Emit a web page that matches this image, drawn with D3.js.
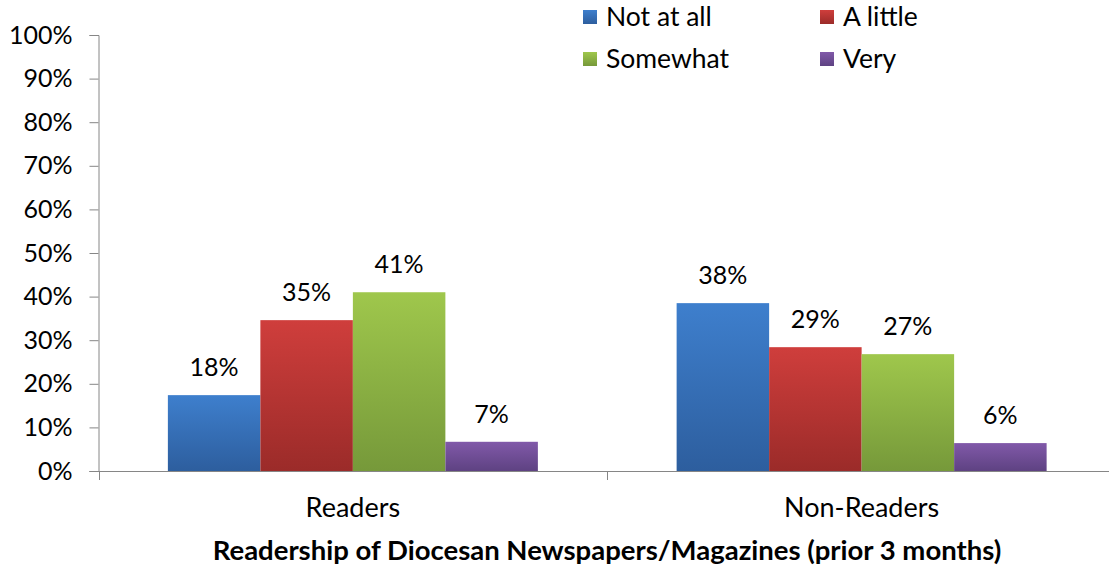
<!DOCTYPE html>
<html>
<head>
<meta charset="utf-8">
<script src="https://cdn.jsdelivr.net/npm/d3@7"></script>
<style>
  body { margin: 0; background: #fff; }
  svg text { font-family: Lato, "Open Sans", sans-serif; fill: #000; }
</style>
</head>
<body>
<div id="canvas"></div>
<script>
"use strict";

let svgWidth = 1109;
let svgHeight = 571;

/* Data */
let groups = ["Readers", "Non-Readers"];
let seriesNames = ["Not at all", "A little", "Somewhat", "Very"];
let readersValues = [17.4, 34.6, 41.0, 6.7];
let nonReadersValues = [38.5, 28.4, 26.8, 6.4];
let labelValues = [["18%", "35%", "41%", "7%"], ["38%", "29%", "27%", "6%"]];
let yTicks = [0, 10, 20, 30, 40, 50, 60, 70, 80, 90, 100];
let axisTitle = "Readership of Diocesan Newspapers/Magazines (prior 3 months)";

let colorsTop = ["#3e7fcd", "#cf3e3c", "#9fc74c", "#8159a9"];
let colorsBottom = ["#2d5e9e", "#9b2b29", "#76993a", "#5e4282"];

let allValues = [readersValues, nonReadersValues];

let plotLeft = 98.5;
let plotRight = 1116;
let plotTop = 35;
let plotBottom = 471;

let svg = d3.select("#canvas")
  .append("svg")
  .attr("width", svgWidth)
  .attr("height", svgHeight);

/* Gradients */
let defs = svg.append("defs");
seriesNames.forEach((s, i) => {
  let g = defs.append("linearGradient")
    .attr("id", "grad" + i)
    .attr("x1", 0).attr("y1", 0)
    .attr("x2", 0).attr("y2", 1);
  g.append("stop").attr("offset", "0%").attr("stop-color", colorsTop[i]);
  g.append("stop").attr("offset", "100%").attr("stop-color", colorsBottom[i]);
});

/* Scales */
let xScale = d3.scaleBand()
  .domain(groups)
  .range([plotLeft, plotRight])
  .paddingInner(0)
  .paddingOuter(0);

let innerScale = d3.scaleBand()
  .domain(seriesNames)
  .range([0, xScale.bandwidth()])
  .paddingOuter(0.75)
  .paddingInner(0);

let yScale = d3.scaleLinear()
  .domain([0, 100])
  .range([plotBottom, plotTop]);

/* Y axis */
let yAxis = svg.append("g")
  .attr("transform", `translate(${plotLeft},0)`)
  .call(d3.axisLeft(yScale).tickValues(yTicks).tickSize(9).tickPadding(17).tickFormat(d => d + "%"));

yAxis.select(".domain").attr("stroke", "#868686");
yAxis.selectAll(".tick line").attr("stroke", "#868686");
yAxis.selectAll(".tick text")
  .attr("font-size", "25px")
  .attr("font-family", "Lato, sans-serif")
  .attr("fill", "#000");

/* Bars */
groups.forEach((grp, gi) => {
  let gg = svg.append("g").attr("transform", `translate(${xScale(grp)},0)`);
  gg.selectAll("rect")
    .data(allValues[gi])
    .enter()
    .append("rect")
    .attr("x", (d, i) => innerScale(seriesNames[i]))
    .attr("y", d => yScale(d))
    .attr("width", innerScale.bandwidth())
    .attr("height", d => plotBottom - yScale(d))
    .attr("fill", (d, i) => `url(#grad${i})`);

  gg.selectAll("text.value")
    .data(allValues[gi])
    .enter()
    .append("text")
    .attr("class", "value")
    .attr("x", (d, i) => innerScale(seriesNames[i]) + innerScale.bandwidth() / 2)
    .attr("y", d => yScale(d) - 19)
    .attr("text-anchor", "middle")
    .attr("font-size", "25px")
    .text((d, i) => labelValues[gi][i]);
});

/* X axis */
let xAxisG = svg.append("g")
  .attr("transform", `translate(0,${plotBottom})`);

xAxisG.append("line")
  .attr("x1", plotLeft - 9)
  .attr("x2", plotRight)
  .attr("y1", 0.5)
  .attr("y2", 0.5)
  .attr("stroke", "#868686");

let xTickPositions = [plotLeft, plotLeft + xScale.bandwidth(), plotRight];
xTickPositions.forEach(p => {
  xAxisG.append("line")
    .attr("x1", Math.round(p) + 0.5)
    .attr("x2", Math.round(p) + 0.5)
    .attr("y1", 0)
    .attr("y2", 9)
    .attr("stroke", "#868686");
});

groups.forEach(grp => {
  xAxisG.append("text")
    .attr("x", xScale(grp) + xScale.bandwidth() / 2)
    .attr("y", 46)
    .attr("text-anchor", "middle")
    .attr("font-size", "27px")
    .text(grp);
});

svg.append("text")
  .attr("x", 607)
  .attr("y", 560)
  .attr("text-anchor", "middle")
  .attr("font-size", "27.5px")
  .attr("font-weight", "bold")
  .text(axisTitle);

/* Legend */
let legendPos = [
  { x: 583, y: 17 },
  { x: 820, y: 17 },
  { x: 583, y: 59 },
  { x: 820, y: 59 }
];

seriesNames.forEach((s, i) => {
  let lg = svg.append("g").attr("transform", `translate(${legendPos[i].x},${legendPos[i].y})`);
  lg.append("rect")
    .attr("x", 0)
    .attr("y", -7)
    .attr("width", 14)
    .attr("height", 14)
    .attr("fill", `url(#grad${i})`);
  lg.append("text")
    .attr("x", 23)
    .attr("y", 0)
    .attr("dy", "0.35em")
    .attr("font-size", "26.5px")
    .text(s);
});
</script>
</body>
</html>
